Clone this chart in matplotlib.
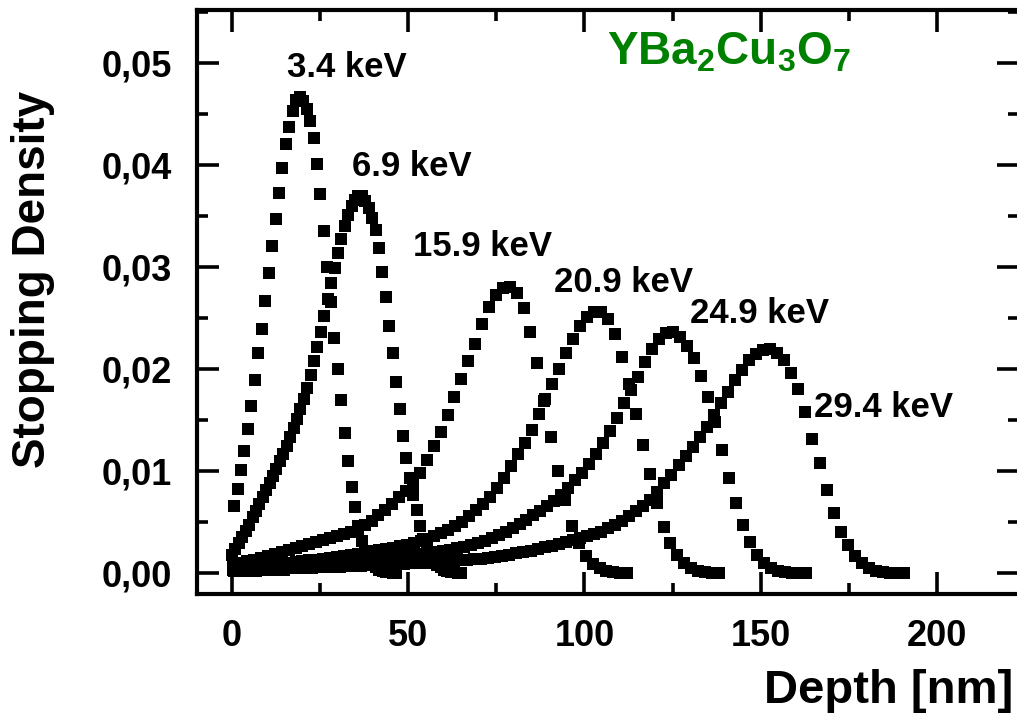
import numpy as np
import matplotlib
matplotlib.use("Agg")
import matplotlib.pyplot as plt
from matplotlib.ticker import MultipleLocator, FixedLocator, FixedFormatter

# ---------------- data ----------------
dens_34 = [0.0065, 0.0082, 0.0101, 0.0119, 0.0141, 0.0163, 0.0189, 0.0215, 0.0239, 0.0266,
           0.0294, 0.0320, 0.0347, 0.0372, 0.0397, 0.0420, 0.0437, 0.0452, 0.0463, 0.0466,
           0.0462, 0.0454, 0.0443, 0.0426, 0.0401, 0.0371, 0.0335, 0.0300, 0.0265, 0.0230,
           0.0200, 0.0169, 0.0137, 0.0109, 0.0084, 0.0064, 0.0046, 0.0031, 0.0020, 0.0013,
           0.0008, 0.0005, 0.0003, 0.0002, 0.0001, 0.0001, 0.0000, 0.0000]
depth_34 = 0.6 + 0.98 * np.arange(len(dens_34))

dens_69 = [0.0017, 0.0023, 0.0029, 0.0035, 0.0041, 0.0047, 0.0054, 0.0060, 0.0067, 0.0074,
           0.0081, 0.0088, 0.0095, 0.0102, 0.0109, 0.0116, 0.0124, 0.0133, 0.0142, 0.0151,
           0.0160, 0.0170, 0.0181, 0.0194, 0.0207, 0.0221, 0.0236, 0.0252, 0.0268, 0.0284,
           0.0299, 0.0313, 0.0327, 0.0340, 0.0351, 0.0359, 0.0365, 0.0369, 0.0369, 0.0364,
           0.0357, 0.0348, 0.0336, 0.0318, 0.0295, 0.0270, 0.0242, 0.0215, 0.0187, 0.0160,
           0.0134, 0.0112, 0.0093, 0.0076, 0.0061, 0.0046, 0.0033, 0.0023, 0.0016, 0.0011,
           0.0007, 0.0005, 0.0003, 0.0002, 0.0001, 0.0001, 0.0000, 0.0000]
depth_69 = 0.97 * np.arange(len(dens_69))

dens_159 = [0.0008, 0.0009, 0.0011, 0.0012, 0.0014, 0.0016, 0.0018, 0.0020, 0.0022, 0.0024,
            0.0026, 0.0028, 0.0030, 0.0032, 0.0034, 0.0036, 0.0038, 0.0040, 0.0043, 0.0047,
            0.0051, 0.0056, 0.0061, 0.0067, 0.0074, 0.0080, 0.0088, 0.0098, 0.0110, 0.0124,
            0.0138, 0.0154, 0.0172, 0.0190, 0.0207, 0.0224, 0.0244, 0.0260, 0.0272, 0.0279,
            0.0280, 0.0274, 0.0259, 0.0236, 0.0205, 0.0168, 0.0133, 0.0100, 0.0071, 0.0046,
            0.0029, 0.0016, 0.0008, 0.0004, 0.0002, 0.0001, 0.0000, 0.0000]
depth_159 = 0.4 + 1.96 * np.arange(len(dens_159))

dens_209 = [0.0005, 0.0005, 0.0006, 0.0006, 0.0007, 0.0007, 0.0008, 0.0009, 0.0009, 0.0010,
            0.0011, 0.0012, 0.0012, 0.0013, 0.0014, 0.0015, 0.0016, 0.0017, 0.0018, 0.0020,
            0.0021, 0.0022, 0.0023, 0.0024, 0.0026, 0.0027, 0.0029, 0.0031, 0.0033, 0.0036,
            0.0039, 0.0042, 0.0046, 0.0050, 0.0055, 0.0061, 0.0067, 0.0074, 0.0083, 0.0093,
            0.0104, 0.0116, 0.0127, 0.0140, 0.0155, 0.0170, 0.0185, 0.0200, 0.0215, 0.0229,
            0.0242, 0.0251, 0.0255, 0.0255, 0.0249, 0.0234, 0.0211, 0.0185, 0.0155, 0.0125,
            0.0097, 0.0068, 0.0045, 0.0029, 0.0017, 0.0009, 0.0004, 0.0002, 0.0001, 0.0000,
            0.0000]
depth_209 = 0.3 + 1.97 * np.arange(len(dens_209))

dens_249 = [0.0003, 0.0003, 0.0003, 0.0004, 0.0004, 0.0004, 0.0005, 0.0005, 0.0005, 0.0006,
            0.0006, 0.0007, 0.0007, 0.0008, 0.0008, 0.0009, 0.0009, 0.0010, 0.0011, 0.0011,
            0.0012, 0.0013, 0.0013, 0.0014, 0.0015, 0.0016, 0.0017, 0.0018, 0.0019, 0.0020,
            0.0021, 0.0022, 0.0024, 0.0025, 0.0027, 0.0029, 0.0031, 0.0034, 0.0037, 0.0040,
            0.0044, 0.0048, 0.0052, 0.0056, 0.0060, 0.0065, 0.0070, 0.0076, 0.0083, 0.0091,
            0.0098, 0.0106, 0.0116, 0.0127, 0.0139, 0.0152, 0.0166, 0.0179, 0.0192, 0.0206,
            0.0219, 0.0229, 0.0235, 0.0236, 0.0231, 0.0222, 0.0210, 0.0193, 0.0172, 0.0148,
            0.0120, 0.0093, 0.0068, 0.0047, 0.0030, 0.0017, 0.0009, 0.0004, 0.0002, 0.0001,
            0.0000, 0.0000, 0.0000]
depth_249 = 0.4 + 1.98 * np.arange(len(dens_249))

dens_294 = [0.0002, 0.0002, 0.0002, 0.0002, 0.0003, 0.0003, 0.0003, 0.0003, 0.0004, 0.0004,
            0.0004, 0.0004, 0.0005, 0.0005, 0.0005, 0.0005, 0.0006, 0.0006, 0.0006, 0.0007,
            0.0007, 0.0007, 0.0008, 0.0008, 0.0008, 0.0009, 0.0009, 0.0009, 0.0010, 0.0010,
            0.0011, 0.0011, 0.0012, 0.0012, 0.0013, 0.0013, 0.0014, 0.0015, 0.0016, 0.0017,
            0.0019, 0.0020, 0.0021, 0.0023, 0.0025, 0.0026, 0.0028, 0.0030, 0.0032, 0.0034,
            0.0036, 0.0038, 0.0040, 0.0044, 0.0047, 0.0051, 0.0055, 0.0060, 0.0065, 0.0071,
            0.0079, 0.0088, 0.0096, 0.0105, 0.0114, 0.0123, 0.0133, 0.0143, 0.0154, 0.0166,
            0.0177, 0.0189, 0.0199, 0.0208, 0.0214, 0.0218, 0.0219, 0.0215, 0.0208, 0.0196,
            0.0180, 0.0157, 0.0131, 0.0107, 0.0081, 0.0058, 0.0040, 0.0027, 0.0016, 0.0009,
            0.0004, 0.0002, 0.0001, 0.0000, 0.0000, 0.0000]
depth_294 = 0.7 + 2.0 * np.arange(len(dens_294))

series_labels = ["3.4 keV", "6.9 keV", "15.9 keV", "20.9 keV", "24.9 keV", "29.4 keV"]

xticks = [0, 50, 100, 150, 200]
xtick_labels = ["0", "50", "100", "150", "200"]
yticks = [0.00, 0.01, 0.02, 0.03, 0.04, 0.05]
ytick_labels = ["0,00", "0,01", "0,02", "0,03", "0,04", "0,05"]

# ---------------- figure ----------------
plt.rcParams["font.family"] = ["Liberation Sans", "DejaVu Sans"]
plt.rcParams["font.weight"] = "bold"
plt.rcParams["mathtext.fontset"] = "custom"
plt.rcParams["mathtext.bf"] = "Liberation Sans:bold"
plt.rcParams["mathtext.rm"] = "Liberation Sans:bold"

W, H = 1017, 715
fig = plt.figure(figsize=(W / 100, H / 100), dpi=100)
L, R, T, B = 197, 1019, 10, 594
ax = fig.add_axes([L / W, 1 - B / H, (R - L) / W, (B - T) / H])

series = [(depth_34, dens_34), (depth_69, dens_69), (depth_159, dens_159),
          (depth_209, dens_209), (depth_249, dens_249), (depth_294, dens_294)]
for d, v in series:
    ax.plot(d, v, linestyle="none", marker="s", markersize=8.8,
            color="black", markeredgewidth=0)

ax.set_xlim(-9.93, 223.3)
ax.set_ylim(-0.0021, 0.05515)

ax.xaxis.set_major_locator(FixedLocator(xticks))
ax.xaxis.set_major_formatter(FixedFormatter(xtick_labels))
ax.xaxis.set_minor_locator(MultipleLocator(25))
ax.yaxis.set_major_locator(FixedLocator(yticks))
ax.yaxis.set_major_formatter(FixedFormatter(ytick_labels))
ax.yaxis.set_minor_locator(MultipleLocator(0.005))

ax.tick_params(which="both", direction="in", top=True, right=True, width=2.6)
ax.tick_params(which="major", length=16, labelsize=26)
ax.tick_params(which="minor", length=8)
ax.tick_params(axis="x", which="major", pad=18)
ax.tick_params(axis="y", which="major", pad=18)
for lab in ax.get_xticklabels() + ax.get_yticklabels():
    lab.set_fontweight("bold")
for sp in ax.spines.values():
    sp.set_linewidth(3.0)

# axis titles
ax.set_ylabel("Stopping Density", fontsize=33, fontweight="bold", va="center")
ax.yaxis.set_label_coords((33 - L) / (R - L), (B - 279) / (B - T))
ax.set_xlabel("Depth [nm]", fontsize=34, fontweight="bold", ha="right", va="baseline")
ax.xaxis.set_label_coords((1013 - L) / (R - L), (B - 703) / (B - T))

# energy labels
label_pos = [(15.6, 0.0486), (34.0, 0.0389), (51.3, 0.0310),
             (91.3, 0.0275), (129.9, 0.0245), (165.1, 0.0153)]
for txt, (x, y) in zip(series_labels, label_pos):
    ax.text(x, y, txt, fontsize=25, fontweight="bold", ha="left", va="baseline")

ax.text(106.4, 0.0498, r"$\mathbf{YBa_2Cu_3O_7}$", fontsize=33, color="#008000",
        ha="left", va="baseline")

fig.savefig("out.png", dpi=100)
